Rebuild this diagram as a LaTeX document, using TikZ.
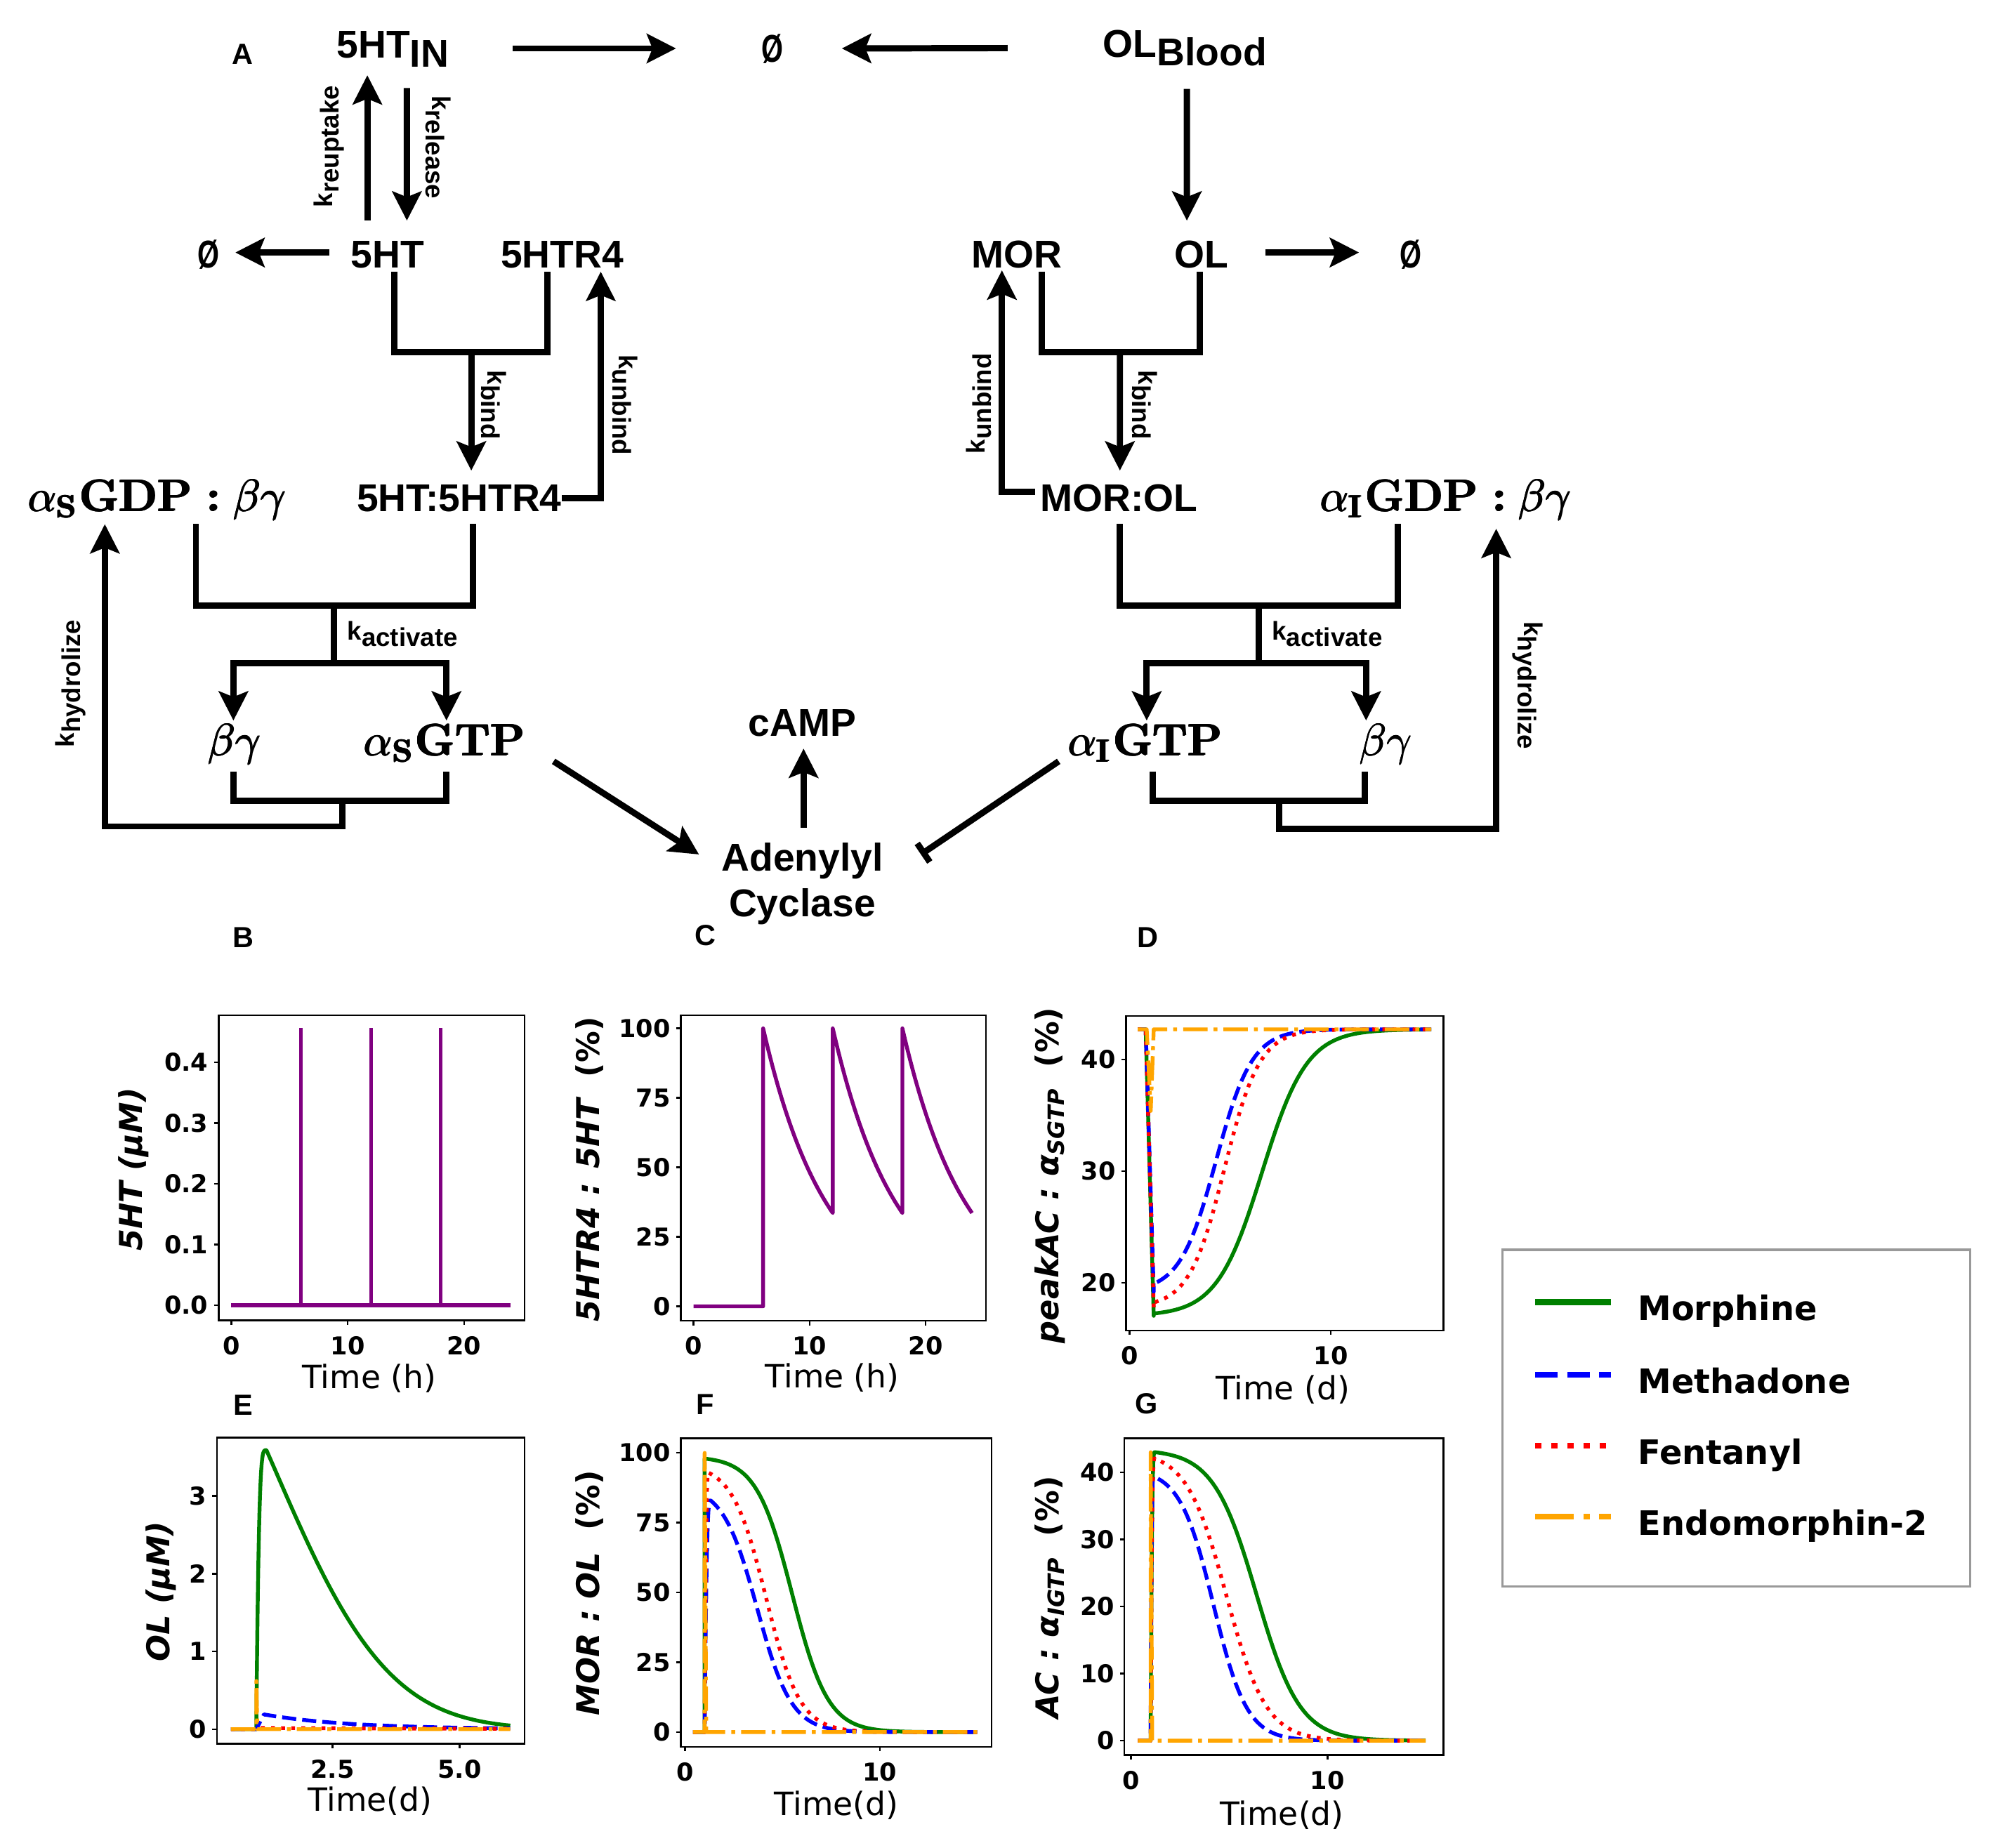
\RequirePackage{fix-cm}
\documentclass[tikz,border=0pt]{standalone}
\usepackage{fontspec}
\usepackage{graphicx}
\usetikzlibrary{arrows.meta,calc}
\newfontfamily\lsans{Liberation Sans}
\newfontfamily\dvs{DejaVu Sans}
\definecolor{mgreen}{HTML}{008000}
\definecolor{mblue}{HTML}{0000FF}
\definecolor{mred}{HTML}{FF0000}
\definecolor{morange}{HTML}{FFA500}
\definecolor{mpurple}{HTML}{800080}
\newcommand\fMain{\lsans\bfseries\fontsize{17.3}{20.4}\selectfont}
\newcommand\fK{\lsans\bfseries\fontsize{11.5}{13}\selectfont}
\newcommand\fPanel{\lsans\bfseries\fontsize{13}{15}\selectfont}
\newcommand\fMath{\rmfamily\fontsize{20}{24}\selectfont}
\newcommand\fTick{\dvs\bfseries\fontsize{11}{13}\selectfont}
\newcommand\fXl{\dvs\fontsize{14.3}{17}\selectfont}
\newcommand\fYl{\dvs\bfseries\itshape\fontsize{14}{17}\selectfont}
\newcommand\fLeg{\dvs\bfseries\fontsize{15}{18}\selectfont}
\newcommand\ksub[2]{#1\raisebox{-2.8pt}{#2}}
\newcommand\myempty{\scalebox{0.72}[1]{\O}}
% poor man's heavier weight: overprint with tiny offsets
\newcommand\heavy[2][0.6pt]{\makebox[0pt][l]{#2}\makebox[0pt][l]{\raisebox{0.4pt}{#2}}\makebox[0pt][l]{\kern#1\raisebox{0.2pt}{#2}}\makebox[0pt][l]{\kern0.3pt\raisebox{0.4pt}{#2}}#2}
\newcommand\gsub[1]{\raisebox{-2.8pt}{\fontsize{14}{16}\selectfont\bfseries #1}}
\newcommand\galpha[2]{$\alpha$\gsub{#1}\kern1.5pt\textbf{#2}}
\newcommand\gdpbg[1]{\galpha{#1}{GDP}\hspace{6.5pt}\textbf{:}\hspace{5.5pt}$\beta\gamma$}
\begin{document}
\begin{tikzpicture}[x=0.02cm,y=-0.02cm,
  lab/.style={font=\fMain, inner sep=0pt, anchor=base},
  mlab/.style={font=\fMath, inner sep=0pt, anchor=base},
  klab/.style={font=\fK, inner sep=0pt},
  pnl/.style={font=\fPanel, inner sep=0pt},
  emp/.style={font=\fMain, inner sep=0pt},
  conn/.style={line width=2.8pt},
  arr/.style={line width=2.8pt, -{Stealth[length=13pt,width=13pt,inset=2.5pt]}},
  inh/.style={line width=2.8pt, -{Bar[width=10pt]}},
  pfr/.style={line width=0.8pt},
  ptick/.style={line width=0.8pt},
  ticklab/.style={font=\fTick, inner sep=0pt},
  xlab/.style={font=\fXl, inner sep=0pt, anchor=base},
  ylab/.style={font=\fYl, inner sep=0pt, rotate=90},
  curve/.style={line width=1.7pt, line join=round},
  pur/.style={curve, color=mpurple},
  morph/.style={curve, color=mgreen},
  metha/.style={curve, color=mblue, dash pattern=on 6.3pt off 2.7pt},
  fenta/.style={curve, color=mred, dash pattern=on 1.7pt off 2.8pt},
  endo/.style={curve, color=morange, dash pattern=on 10.9pt off 2.7pt on 1.7pt off 2.7pt},
  legM/.style={line width=2.7pt, color=mgreen},
  legMe/.style={line width=2.7pt, color=mblue, dash pattern=on 10pt off 4.3pt},
  legF/.style={line width=2.7pt, color=mred, dash pattern=on 2.7pt off 4.5pt},
  legE/.style={line width=2.7pt, color=morange, dash pattern=on 17.3pt off 4.3pt on 2.7pt off 4.3pt},
  legt/.style={font=\fLeg, inner sep=0pt, anchor=base west}]
\fill[white] (0,0) rectangle (1568,1449);
\useasboundingbox (0,0) rectangle (1568,1449);

% ---------------- Panel A : nodes ----------------
\node[pnl] (pA) at (190,42.7) {A};
\node[lab] (n5htin) at (308,45.5) {5HT\raisebox{-4pt}{IN}};
\node[lab] (olb) at (929,44.7) {OL\raisebox{-4pt}{Blood}};
\node[emp] (e0) at (605.5,38.5) {\myempty};
\node[emp] (e1) at (163.5,199.5) {\myempty};
\node[emp] (e2) at (1106,199.5) {\myempty};
\node[lab] (n5ht) at (303.8,210) {5HT};
\node[lab] (r4) at (440.7,210) {5HTR4};
\node[lab] (mor) at (797.4,210) {MOR};
\node[lab] (ol) at (942,210) {OL};
\node[lab] (cplx) at (360,401) {5HT:5HTR4};
\node[mlab] (asgdp) at (122.7,401) {\heavy{\gdpbg{S}}};
\node[lab] (morol) at (877.4,401) {MOR:OL};
\node[mlab] (aigdp) at (1133,401) {\heavy{\gdpbg{I}}};
\node[mlab] (bgl) at (183.5,592.6) {\heavy[0.4pt]{$\beta\gamma$}};
\node[mlab] (asgtp) at (348,592.6) {\heavy{\galpha{S}{GTP}}};
\node[mlab] (aigtp) at (897.5,592.6) {\heavy{\galpha{I}{GTP}}};
\node[mlab] (bgr) at (1086,592.6) {\heavy[0.4pt]{$\beta\gamma$}};
\node[lab] (camp) at (629,577) {cAMP};
\node[lab, anchor=center, align=center] (ac) at (629,693) {Adenylyl\\Cyclase};

% rate labels
\node[klab, rotate=90] (kru) at (258,114.8) {\ksub{k}{reuptake}};
\node[klab, rotate=-90] (krl) at (343.5,115.5) {\ksub{k}{release}};
\node[klab, rotate=-90] (kb1) at (387,317.5) {\ksub{k}{bind}};
\node[klab, rotate=-90] (ku1) at (490,317.5) {\ksub{k}{unbind}};
\node[klab, rotate=-90] (kb2) at (897.5,317.5) {\ksub{k}{bind}};
\node[klab, rotate=90] (ku2) at (767.5,316.5) {\ksub{k}{unbind}};
\node[klab, rotate=90] (kh1) at (55.5,536) {\ksub{k}{hydrolize}};
\node[klab, rotate=-90] (kh2) at (1197.5,537.5) {\ksub{k}{hydrolize}};
\node[klab, anchor=base west] (ka1) at (272,502) {\ksub{k}{activate}};
\node[klab, anchor=base west] (ka2) at (997,502) {\ksub{k}{activate}};

% ---------------- Panel A : connectors ----------------
\draw[arr] ($(n5htin.base)+(94,-7.5)$) -- ($(e0.center)+(-75.5,-0.5)$);
\draw[arr] ($(olb.base)+(-139,-7)$) -- ($(e0.center)+(54.5,-0.5)$);
\draw[arr] ($(olb.base)+(1.5,25)$) -- ($(ol.base)+(-11.5,-37)$);
\draw[arr] ($(n5ht.base)+(-45.8,-12)$) -- ($(e1.center)+(21,-1.5)$);
\draw[arr] ($(ol.base)+(50,-12)$) -- ($(e2.center)+(-40.5,-1.5)$);
\draw[arr] ($(n5ht.base)+(-15.8,-37)$) -- ($(n5htin.base)+(-20,13.5)$);
\draw[arr] ($(n5htin.base)+(11,23.5)$) -- ($(n5ht.base)+(15.2,-37)$);

\coordinate (j1) at (369.5,276);
\draw[conn] ($(n5ht.base)+(5.2,3)$) |- (j1) -| ($(r4.base)+(-11.7,3)$);
\draw[arr] (j1) -- ($(cplx.base)+(9.5,-32)$);
\draw[arr] (cplx.east) -| ($(r4.base)+(30.3,3)$);

\coordinate (j2) at (878,276);
\draw[conn] ($(mor.base)+(19.2,3)$) |- (j2) -| ($(ol.base)+(-1.5,3)$);
\draw[arr] (j2) -- ($(morol.base)+(0.6,-32)$);
\draw[arr] ($(morol.west)+(-4,-5)$) -| ($(mor.base)+(-11.9,2)$);

\coordinate (j3) at (261.6,475);
\coordinate (j4) at (261.6,520);
\draw[conn] ($(asgdp.base)+(30.9,9.8)$) |- (j3) -| ($(cplx.base)+(11,9.8)$);
\draw[conn] (j3) -- (j4);
\draw[arr] (j4) -| ($(bgl.base)+(-0.5,-27.6)$);
\draw[arr] (j4) -| ($(asgtp.base)+(2,-27.6)$);
\coordinate (j5) at (268.6,628);
\coordinate (j6) at (268.6,648);
\draw[conn] ($(bgl.base)+(-0.5,12.4)$) |- (j5) -| ($(asgtp.base)+(2,12.4)$);
\draw[arr] (j5) -- (j6) -| ($(asgdp.base)+(-40.5,10)$);

\coordinate (j7) at (987,475);
\coordinate (j8) at (987,520);
\draw[conn] ($(morol.base)+(0.6,9.8)$) |- (j7) -| ($(aigdp.base)+(-37,9.8)$);
\draw[conn] (j7) -- (j8);
\draw[arr] (j8) -| ($(aigtp.base)+(1.5,-27.6)$);
\draw[arr] (j8) -| ($(bgr.base)+(-15,-27.6)$);
\coordinate (j9) at (1003,628);
\coordinate (j10) at (1003,650);
\draw[conn] ($(aigtp.base)+(6,12.4)$) |- (j9) -| ($(bgr.base)+(-16,12.4)$);
\draw[arr] (j9) -- (j10) -| ($(aigdp.base)+(40,13.6)$);

\draw[arr] ($(asgtp.base)+(86,4.4)$) -- ($(ac.center)+(-81,-23)$);
\draw[inh] ($(aigtp.base)+(-67.5,4.4)$) -- ($(ac.center)+(93,-23)$);
\draw[arr] ($(ac.center)+(1,-44)$) -- ($(camp.base)+(1,10)$);

% ---------------- Panel labels ----------------
\node[pnl] (pB) at (191,735) {B};
\node[pnl] (pC) at (553,733.6) {C};
\node[pnl] (pD) at (900,735) {D};
\node[pnl] (pE) at (190.6,1101.7) {E};
\node[pnl] (pF) at (553,1101.5) {F};
\node[pnl] (pG) at (899,1100.8) {G};

% ---------------- Panel B ----------------
\draw[pfr] (171.5,796.2) rectangle (411.3,1035.3);
\foreach \v/\l [count=\i] in {0/0.0,0.1/0.1,0.2/0.2,0.3/0.3,0.4/0.4} {
  \draw[ptick] (171.5,{1023.6-476.3*\v}) -- ++(-3.5,0);
  \node[ticklab, anchor=east] (bY\i) at (163.5,{1023.6-476.3*\v}) {\l};}
\foreach \t [count=\i] in {0,10,20} {
  \draw[ptick] ({181.3+9.13*\t},1035.3) -- ++(0,3.5);
  \node[ticklab, anchor=north] (bX\i) at ({181.3+9.13*\t},1047.5) {\t};}
\begin{scope}[shift={(181.3,1023.6)}, x=0.1826cm, y=9.526cm]
  \draw[pur] (0,0) -- (24,0);
  \foreach \s in {6,12,18} \draw[pur] (\s,0) -- (\s,0.4566);
\end{scope}
\node[xlab] (bXl) at (289.5,1088.5) {Time (h)};
\node[ylab] (bYl) at (105,917) {5HT (μM)};

% ---------------- Panel C ----------------
\draw[pfr] (533.9,796) rectangle (773,1035.7);
\foreach \v [count=\i] in {0,25,50,75,100} {
  \draw[ptick] (533.9,{1024.3-2.18*\v}) -- ++(-3.5,0);
  \node[ticklab, anchor=east] (cY\i) at (526,{1024.3-2.18*\v}) {\v};}
\foreach \t [count=\i] in {0,10,20} {
  \draw[ptick] ({543.7+9.1*\t},1035.7) -- ++(0,3.5);
  \node[ticklab, anchor=north] (cX\i) at ({543.7+9.1*\t},1047.5) {\t};}
\begin{scope}[shift={(543.7,1024.3)}, x=0.182cm, y=0.0436cm]
  \draw[pur] (0,0) -- (6,0) -- (6,100)
    -- plot[domain=6:12,samples=30] (\x,{100*exp(-0.182*(\x-6))}) -- (12,100)
    -- plot[domain=12:18,samples=30] (\x,{100*exp(-0.182*(\x-12))}) -- (18,100)
    -- plot[domain=18:24,samples=30] (\x,{100*exp(-0.182*(\x-18))});
\end{scope}
\node[xlab] (cXl) at (652.5,1088.2) {Time (h)};
\node[ylab] (cYl) at (462.4,917) {5HTR4 : 5HT\ \ \upshape(\%)};

% ---------------- Panel D ----------------
\draw[pfr] (882.8,796.6) rectangle (1131.6,1043.2);
\foreach \v [count=\i] in {20,30,40} {
  \draw[ptick] (882.8,{1181.1-8.76*\v}) -- ++(-3.5,0);
  \node[ticklab, anchor=east] (dY\i) at (875,{1181.1-8.76*\v}) {\v};}
\foreach \t [count=\i] in {0,10} {
  \draw[ptick] ({885.6+15.77*\t},1043.2) -- ++(0,3.5);
  \node[ticklab, anchor=north] (dX\i) at ({885.6+15.77*\t},1055.5) {\t};}
\begin{scope}[shift={(885.6,1181.1)}, x=0.3154cm, y=0.1752cm]
  \draw[morph] (0.4,42.7) -- (0.8,42.7) -- (1.2,17.05)
    -- plot[domain=1.2:15,samples=80] (\x,{17.05+25.65/(1+exp(-(\x-6.58)/1.12))});
  \draw[metha] (0.4,42.7) -- (0.8,42.7) -- (1.2,19.2)
    -- plot[domain=1.2:15,samples=80] (\x,{19.2+23.5/(1+exp(-(\x-4.30)/0.898))});
  \draw[fenta] (0.4,42.7) -- (0.8,42.7) -- (1.2,17.8)
    -- plot[domain=1.2:15,samples=80] (\x,{17.8+24.9/(1+exp(-(\x-4.72)/0.879))});
  \draw[endo] (0.4,42.7) -- (0.85,42.7) -- (1.05,35.4) -- (1.2,42.7) -- (15,42.7);
\end{scope}
\node[xlab] (dXl) at (1005.6,1097.4) {Time (d)};
\node[ylab] (dYl) at (823,921.6) {peakAC : α\raisebox{-2.5pt}{\fontsize{10}{12}\selectfont SGTP}\ \ \upshape(\%)};

% ---------------- Panel E ----------------
\draw[pfr] (170,1127.2) rectangle (411.3,1367.4);
\foreach \v [count=\i] in {0,1,2,3} {
  \draw[ptick] (170,{1355.9-60.95*\v}) -- ++(-3.5,0);
  \node[ticklab, anchor=east] (eY\i) at (162,{1355.9-60.95*\v}) {\v};}
\foreach \t [count=\i] in {2.5,5.0} {
  \draw[ptick] ({161.1+39.84*\t},1367.4) -- ++(0,3.5);
  \node[ticklab, anchor=north] (eX\i) at ({161.1+39.84*\t},1379.5) {\t};}
\begin{scope}[shift={(161.1,1355.9)}, x=0.7968cm, y=1.219cm]
  \draw[morph] (0.5,0) -- (1,0)
    -- plot[domain=1:1.2,samples=20] (\x,{3.59*(1-((1.2-\x)/0.2)^4)})
    -- plot[domain=1.2:6,samples=60] (\x,{3.59*exp(-0.415*(\x-1.2)-0.102*(\x-1.2)^2)});
  \draw[metha] (0.5,0) -- (1,0) -- (1.15,0.19)
    -- plot[domain=1.15:6,samples=40] (\x,{0.19*exp(-0.6*(\x-1.15))});
  \draw[fenta] (0.5,0) -- (1,0) -- (1.1,0.015) -- (6,0.005);
  \draw[endo] (0.5,0) -- (1,0) -- (1,0.62) -- (1.02,0) -- (6,0);
\end{scope}
\node[xlab] (eXl) at (290.2,1420.2) {Time(d)};
\node[ylab] (eYl) at (126.3,1248) {OL (μM)};

% ---------------- Panel F ----------------
\draw[pfr] (533.9,1127.8) rectangle (777.5,1369.7);
\foreach \v [count=\i] in {0,25,50,75,100} {
  \draw[ptick] (533.9,{1358.2-2.19*\v}) -- ++(-3.5,0);
  \node[ticklab, anchor=east] (fY\i) at (526,{1358.2-2.19*\v}) {\v};}
\foreach \t [count=\i] in {0,10} {
  \draw[ptick] ({537.2+15.26*\t},1369.7) -- ++(0,3.5);
  \node[ticklab, anchor=north] (fX\i) at ({537.2+15.26*\t},1381.6) {\t};}
\begin{scope}[shift={(537.2,1358.2)}, x=0.3052cm, y=0.0438cm]
  \draw[morph] (0.4,0) -- (1,0)
    -- plot[domain=1:15,samples=90] (\x,{98.7/(1+exp(min((\x-5.5)/0.92,9)))});
  \draw[metha] (0.4,0) -- (1,0)
    -- plot[domain=1:1.3,samples=15] (\x,{83*(1-((1.3-\x)/0.3)^3)})
    -- plot[domain=1.3:15,samples=90] (\x,{88.5/(1+exp(min((\x-3.7)/0.883,9)))});
  \draw[fenta] (0.4,0) -- (1,0)
    -- plot[domain=1:1.2,samples=15] (\x,{93*(1-((1.2-\x)/0.2)^3)})
    -- plot[domain=1.2:15,samples=90] (\x,{96/(1+exp(min((\x-4.16)/0.87,9)))});
  \draw[endo] (0.4,0) -- (1,0) -- (1,100) -- (1.08,0) -- (15,0);
\end{scope}
\node[xlab] (fXl) at (655.7,1423.6) {Time(d)};
\node[ylab] (fYl) at (462.4,1249) {MOR : OL\ \ \upshape(\%)};

% ---------------- Panel G ----------------
\draw[pfr] (881.5,1127.8) rectangle (1131.6,1376);
\foreach \v [count=\i] in {0,10,20,30,40} {
  \draw[ptick] (881.5,{1364.9-5.26*\v}) -- ++(-3.5,0);
  \node[ticklab, anchor=east] (gY\i) at (874,{1364.9-5.26*\v}) {\v};}
\foreach \t [count=\i] in {0,10} {
  \draw[ptick] ({886.7+15.4*\t},1376) -- ++(0,3.5);
  \node[ticklab, anchor=north] (gX\i) at ({886.7+15.4*\t},1388.2) {\t};}
\begin{scope}[shift={(886.7,1364.9)}, x=0.308cm, y=0.1052cm]
  \draw[morph] (0.35,0) -- (1,0)
    -- plot[domain=1:1.2,samples=15] (\x,{43*(1-((1.2-\x)/0.2)^3)})
    -- plot[domain=1.2:15,samples=90] (\x,{43.4/(1+exp(min((\x-6.4)/1.1,9)))});
  \draw[metha] (0.35,0) -- (1,0)
    -- plot[domain=1:1.14,samples=15] (\x,{39.4*(1-((1.14-\x)/0.14)^3)})
    -- plot[domain=1.14:15,samples=90] (\x,{40.5/(1+exp(min((\x-4.2)/0.855,9)))});
  \draw[fenta] (0.35,0) -- (1,0)
    -- plot[domain=1:1.2,samples=15] (\x,{42.1*(1-((1.2-\x)/0.2)^3)})
    -- plot[domain=1.2:15,samples=90] (\x,{43.2/(1+exp(min((\x-4.86)/1.015,9)))});
  \draw[endo] (0.35,0) -- (1,0) -- (1,43) -- (1.08,0) -- (15,0);
\end{scope}
\node[xlab] (gXl) at (1005,1431.4) {Time(d)};
\node[ylab] (gYl) at (823,1252.5) {AC : α\raisebox{-2.5pt}{\fontsize{10}{12}\selectfont IGTP}\ \ \upshape(\%)};

% ---------------- Legend ----------------
\draw[line width=1pt, black!40] (1177.8,980) rectangle (1544.5,1243.8);
\draw[legM] (1203.6,1021) -- (1262.7,1021);
\draw[legMe] (1203.6,1078) -- (1262.7,1078);
\draw[legF] (1203.6,1133.6) -- (1262.7,1133.6);
\draw[legE] (1203.6,1189.3) -- (1262.7,1189.3);
\node[legt] (lg1) at (1283.8,1035.5) {Morphine};
\node[legt] (lg2) at (1283.8,1092.5) {Methadone};
\node[legt] (lg3) at (1283.8,1148.1) {Fentanyl};
\node[legt] (lg4) at (1283.8,1203.8) {Endomorphin-2};
\end{tikzpicture}
\end{document}
